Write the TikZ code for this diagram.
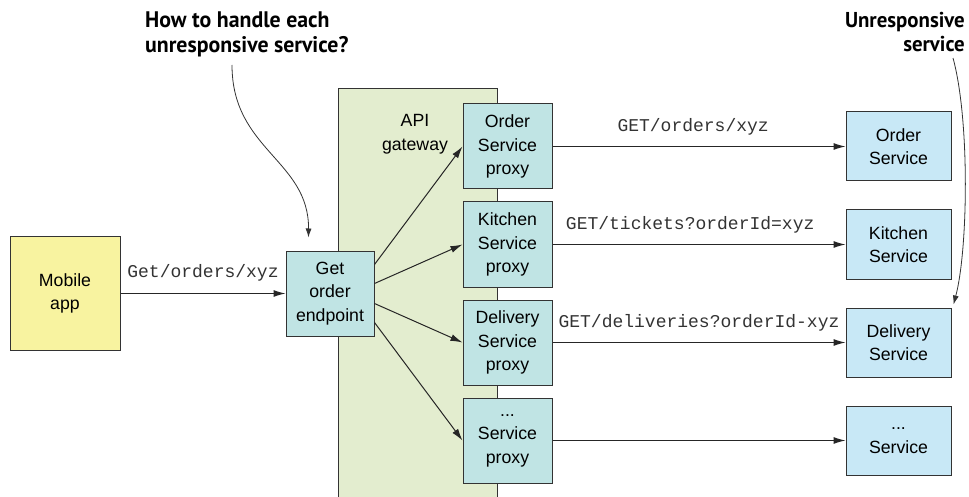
\documentclass[tikz,border=0pt]{standalone}
\usepackage{fontspec}
\setmainfont{Liberation Sans}
\setmonofont{Liberation Mono}
\newfontfamily\calloutfont[FakeStretch=0.97]{PT Sans}
\usetikzlibrary{positioning, calc, arrows.meta}
\definecolor{appyellow}{HTML}{F8F3A0}
\definecolor{proxyteal}{HTML}{C0E4E4}
\definecolor{serviceblue}{HTML}{C8E8F6}
\definecolor{gwgreen}{HTML}{E3EDCF}
\tikzstyle{Arrow} = [
%Solid call arrow:
line width=1pt, draw=black!85,
-{Latex[length=12pt, width=7pt]}
]
\tikzstyle{Pointer} = [
%Thin callout arrow:
line width=0.8pt, draw=black!80,
-{Latex[length=9pt, width=6pt]}
]

\begin{document}
\begin{tikzpicture}[x=1pt, y=-1pt,
			box/.style = {rectangle, draw=black!80, line width=1pt, text centered, align=center, inner sep=0pt, font=\fontsize{17.7}{23.5}\selectfont},
			client/.style = {box, fill=appyellow, minimum width=110pt, minimum height=114pt},
			endpoint/.style = {box, fill=proxyteal, minimum width=88pt, minimum height=85pt},
			proxy/.style = {endpoint, minimum width=89pt},
			service/.style = {box, fill=serviceblue, minimum width=105pt, minimum height=69pt},
			call/.style = {font=\ttfamily\fontsize{18}{20}\selectfont, text=black!80, inner sep=3pt},
			callout/.style = {font=\calloutfont\bfseries\fontsize{21.5}{24.5}\selectfont, inner sep=0pt},
		]
		\useasboundingbox (0,0) rectangle (969,497);

		\node[fill=gwgreen, minimum width=158pt, minimum height=410pt, inner sep=0pt](GW) at (418,294){};
		\draw[line width=1pt, black!80](GW.south west) |- (GW.north east) -- (GW.south east);
		\node[font=\fontsize{17.7}{23.5}\selectfont, align=center](API) at (415,134){API\\gateway};

		\node[client](App) at (65,293.5){Mobile\\app};
		\node[endpoint](EP) at (330,293.5){Get\\order\\endpoint};

		\node[proxy](OP) at (507.5,146.5){Order\\Service\\proxy};
		\node[proxy](KP) at (507.5,244.5){Kitchen\\Service\\proxy};
		\node[proxy](DP) at (507.5,342.5){Delivery\\Service\\proxy};
		\node[proxy](XP) at (507.5,440.5){...\\Service\\proxy};

		\node[service](OS) at (898.5,146.5){Order\\Service};
		\node[service](KS) at (898.5,244.5){Kitchen\\Service};
		\node[service](DS) at (898.5,342.5){Delivery\\Service};
		\node[service](XS) at (898.5,440.5){...\\Service};

		\draw[Arrow](App)--node[midway, above=9pt, call]{Get/orders/xyz}(EP);
		\draw[Arrow]($(EP.east)+(0,-29)$)--(OP.west);
		\draw[Arrow]($(EP.east)+(0,-10)$)--(KP.west);
		\draw[Arrow]($(EP.east)+(0,10)$)--(DP.west);
		\draw[Arrow]($(EP.east)+(0,29)$)--(XP.west);

		\draw[Arrow](OP)--node[pos=0.48, above=8pt, call]{GET/orders/xyz}(OS);
		\draw[Arrow](KP)--node[pos=0.47, above=8pt, call]{GET/tickets?orderId=xyz}(KS);
		\draw[Arrow](DP)--node[midway, above=8pt, call]{GET/deliveries?orderId-xyz}(DS);
		\draw[Arrow](XP)--(XS);

		\node[callout, anchor=north west, align=left, font=\calloutfont\bfseries\fontsize{22.5}{25}\selectfont](Q) at (145,12){How to handle each\\unresponsive service?};
		\node[callout, anchor=north east, align=right](U) at (965,12){Unresponsive\\service};
		\coordinate(QTail) at (232,65);
		\coordinate(UTail) at (953,58);

		\draw[Pointer](QTail) .. controls (232,150) and (309,160) .. ($(EP.north west)+(23,-13)$);
		\draw[Pointer](UTail) .. controls (970,120) and (968,250) .. ($(DS.north east)+(2,-3)$);
	\end{tikzpicture}
\end{document}
